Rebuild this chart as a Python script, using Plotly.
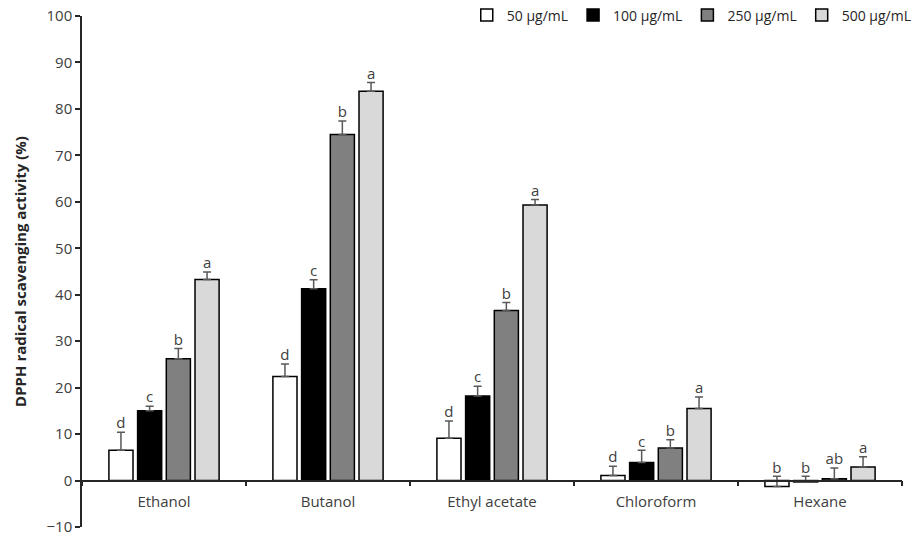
import plotly.graph_objects as go

categories = ["Ethanol", "Butanol", "Ethyl acetate", "Chloroform", "Hexane"]
series_names = ["50 μg/mL", "100 μg/mL", "250 μg/mL", "500 μg/mL"]

v50 = [6.5, 22.4, 9.1, 1.1, -1.3]
v100 = [15.0, 41.3, 18.2, 3.9, -0.3]
v250 = [26.2, 74.5, 36.6, 7.0, 0.4]
v500 = [43.3, 83.8, 59.3, 15.5, 2.9]

e50 = [3.9, 2.7, 3.7, 2.0, 2.2]
e100 = [1.0, 1.9, 2.1, 2.6, 1.2]
e250 = [2.2, 2.9, 1.7, 1.8, 2.3]
e500 = [1.6, 1.9, 1.2, 2.5, 2.2]

l50 = ["d", "d", "d", "d", "b"]
l100 = ["c", "c", "c", "c", "b"]
l250 = ["b", "b", "b", "b", "ab"]
l500 = ["a", "a", "a", "a", "a"]

values = [v50, v100, v250, v500]
errors = [e50, e100, e250, e500]
letters = [l50, l100, l250, l500]
colors = ["#ffffff", "#000000", "#808080", "#d9d9d9"]

FONT = "Open Sans"
TXT = "#404040"

fig = go.Figure()
for i in range(4):
    fig.add_trace(go.Bar(
        x=categories, y=values[i], name=series_names[i],
        offsetgroup="g%d" % i,
        marker=dict(color=colors[i], line=dict(color="#000000", width=1.5)),
        error_y=dict(type="data", array=errors[i], arrayminus=[0] * len(errors[i]),
                     symmetric=False, color="#595959", thickness=1.5, width=4),
    ))
for i in range(4):
    tops = [v + e for v, e in zip(values[i], errors[i])]
    fig.add_trace(go.Scatter(
        x=categories, y=tops, text=letters[i], mode="text",
        textposition="top center", offsetgroup="g%d" % i,
        textfont=dict(family=FONT, size=15, color=TXT),
        showlegend=False, hoverinfo="skip",
    ))

ymin, ymax = -10, 100
fig.update_layout(
    width=918, height=537,
    margin=dict(l=82, r=16, t=16, b=10, autoexpand=False),
    paper_bgcolor="white", plot_bgcolor="white",
    barmode="group", bargap=0.3, bargroupgap=0.16,
    scattermode="group", scattergap=0.3,
    font=dict(family=FONT, size=15, color=TXT),
    legend=dict(orientation="h", x=1.018, xanchor="right", y=1.001, yanchor="middle",
                font=dict(family=FONT, size=14, color="#262626"),
                bgcolor="rgba(0,0,0,0)", traceorder="normal"),
    showlegend=True,
)
fig.update_yaxes(
    range=[ymin, ymax], dtick=10, tick0=0, automargin=False,
    showline=True, linecolor="#262626", linewidth=1.5,
    ticks="outside", ticklen=5, tickcolor="#262626", tickwidth=1.5,
    showgrid=False, zeroline=False,
    tickfont=dict(family=FONT, size=15, color=TXT),
    title=dict(text="<b>DPPH radical scavenging activity (%)</b>",
               font=dict(family=FONT, size=15, color="#262626"), standoff=16),
)
fig.update_xaxes(
    anchor="free", position=(0 - ymin) / (ymax - ymin), automargin=False,
    showline=True, linecolor="#262626", linewidth=1.5,
    ticks="outside", ticklen=5, tickcolor="#262626", tickwidth=1.5,
    tickson="boundaries", showgrid=False, zeroline=False,
    ticklabelstandoff=8,
    tickfont=dict(family=FONT, size=15, color=TXT),
)

fig.write_html("out.html", config={"displayModeBar": False},
               post_script="document.body.style.margin='0';")
